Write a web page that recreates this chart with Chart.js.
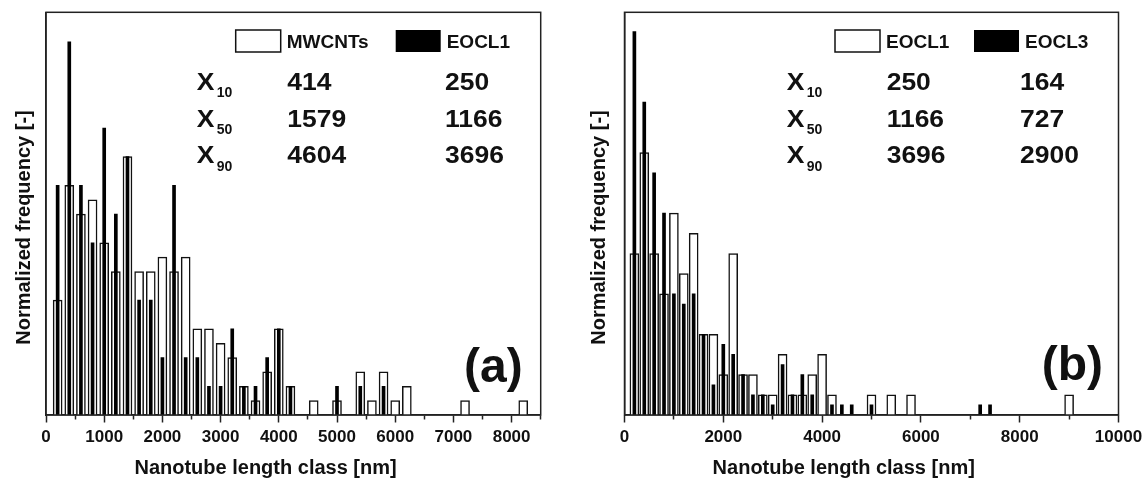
<!DOCTYPE html>
<html>
<head>
<meta charset="utf-8">
<script src="https://cdn.jsdelivr.net/npm/chart.js@4.4.1/dist/chart.umd.min.js"></script>
<style>
    html, body { margin: 0; padding: 0; background: #fff; }
    .panel { position: absolute; top: 0; width: 572px; height: 480px; }
    #panel-a { left: 0; }
    #panel-b { left: 572px; }
</style>
</head>
<body>
<div class="panel" id="panel-a"><canvas id="chart-a"></canvas></div>
<div class="panel" id="panel-b"><canvas id="chart-b"></canvas></div>
<script>
// Length classes [nm] (bin centres)
const lengthClasses = [
    200, 400, 600, 800, 1000, 1200, 1400, 1600, 1800, 2000,
    2200, 2400, 2600, 2800, 3000, 3200, 3400, 3600, 3800, 4000,
    4200, 4400, 4600, 4800, 5000, 5200, 5400, 5600, 5800, 6000,
    6200, 6400, 6600, 6800, 7000, 7200, 7400, 7600, 7800, 8000,
    8200, 8400, 8600, 8800, 9000
]

// Normalized frequency per class
const mwcntFreq = [
    8, 16, 14, 15, 12, 10, 18, 10, 10, 11,
    10, 11, 6, 6, 5, 4, 2, 1, 3, 6,
    2, 0, 1, 0, 1, 0, 3, 1, 3, 1,
    2, 0, 0, 0, 0, 1, 0, 0, 0, 0,
    1, 0, 0, 0, 0
]
const eocl1Freq = [
    16, 26, 16, 12, 20, 14, 18, 8, 8, 4,
    16, 4, 4, 2, 2, 6, 2, 2, 4, 6,
    2, 0, 0, 0, 2, 0, 2, 0, 2, 0,
    0, 0, 0, 0, 0, 0, 0, 0, 0, 0,
    0, 0, 0, 0, 2
]
const eocl3Freq = [
    38, 31, 24, 20, 12, 11, 12, 8, 3, 7,
    6, 4, 2, 2, 1, 5, 2, 4, 2, 0,
    1, 1, 1, 0, 1, 0, 0, 0, 0, 0,
    0, 0, 0, 0, 0, 1, 1, 0, 0, 0,
    0, 0, 0, 0, 0
]

// Characteristic lengths X10 / X50 / X90 [nm]
const percentiles = ['10', '50', '90']
const mwcntStats = [414, 1579, 4604]
const eocl1Stats = [250, 1166, 3696]
const eocl3Stats = [164, 727, 2900]

const FONT = "'Liberation Sans', Arial, sans-serif"

function toPoints(values, xMax) {
    let points = []
    values.forEach((v, i) => {
        if (v > 0 && lengthClasses[i] <= xMax) {
            points.push({x: lengthClasses[i], y: v})
        }
    })
    return points
}

// stretched bold text like the original figure
function drawWide(ctx, text, x, y, size, sx) {
    ctx.save()
    ctx.font = `bold ${size}px ${FONT}`
    ctx.translate(x, y)
    ctx.scale(sx, 1)
    ctx.fillText(text, 0, 0)
    ctx.restore()
}

// Frame, legend, X10/X50/X90 table and panel letter
const panelDecor = {
    id: 'panelDecor',
    afterDatasetsDraw(chart, args, opts) {
        const ctx = chart.ctx
        const area = chart.chartArea
        ctx.save()
        ctx.strokeStyle = '#222'
        ctx.lineWidth = 1.5
        ctx.strokeRect(area.left, area.top, area.right - area.left, area.bottom - area.top)

        // legend
        const blackSet = chart.data.datasets[0]
        const openSet = chart.data.datasets[1]
        ctx.fillStyle = '#fff'
        ctx.fillRect(opts.openX, 30, 45, 22)
        ctx.strokeStyle = '#111'
        ctx.strokeRect(opts.openX, 30, 45, 22)
        ctx.fillStyle = '#000'
        ctx.fillRect(opts.blackX, 30, 45, 22)
        ctx.fillStyle = '#111'
        ctx.textBaseline = 'alphabetic'
        ctx.textAlign = 'left'
        ctx.font = `bold 19px ${FONT}`
        ctx.fillText(openSet.label, opts.openX + 51, 48.3)
        ctx.fillText(blackSet.label, opts.blackX + 51, 48.3)

        // table
        const rows = [90, 126.7, 163.3]
        rows.forEach((y, i) => {
            drawWide(ctx, 'X', opts.tableX, y, 23, 1.15)
            ctx.font = `bold 14px ${FONT}`
            ctx.fillText(percentiles[i], opts.tableX + 20, y + 7.3)
            drawWide(ctx, String(opts.openStats[i]), opts.col1X, y, 23, 1.15)
            drawWide(ctx, String(opts.blackStats[i]), opts.col2X, y, 23, 1.15)
        })

        // panel letter
        ctx.font = `bold 48px ${FONT}`
        ctx.fillText(opts.letter, opts.letterX, opts.letterY)
        ctx.restore()
    }
}

function makeConfig(openLabel, openValues, blackLabel, blackValues, xMax, xStep, labelStep, yMax, yAxisWidth, rightPad, titlePad, decor) {
    return {
        type: 'bar',
        data: {
            datasets: [
                {
                    label: blackLabel,
                    data: toPoints(blackValues, xMax),
                    backgroundColor: '#000',
                    borderWidth: 0,
                    barThickness: 3,
                    grouped: false,
                    order: 0
                },
                {
                    label: openLabel,
                    data: toPoints(openValues, xMax),
                    backgroundColor: '#fff',
                    borderColor: '#111',
                    borderWidth: 1.5,
                    barThickness: 9,
                    grouped: false,
                    order: 1
                }
            ]
        },
        options: {
            responsive: true,
            maintainAspectRatio: false,
            animation: false,
            events: [],
            layout: {
                padding: {top: 12.3, right: rightPad, left: 0, bottom: 0}
            },
            scales: {
                x: {
                    type: 'linear',
                    min: 0,
                    max: xMax,
                    offset: false,
                    grid: {
                        display: true,
                        offset: false,
                        drawOnChartArea: false,
                        drawTicks: true,
                        tickLength: 7.5,
                        tickWidth: 1.5,
                        color: '#222',
                        // minor ticks (no label) drawn shorter
                        tickBorderDash: c => (c.tick && c.tick.value % labelStep !== 0 ? [4, 20] : [])
                    },
                    border: {display: true, color: '#222', width: 1.5},
                    ticks: {
                        stepSize: xStep,
                        autoSkip: false,
                        maxRotation: 0,
                        padding: 4.8,
                        color: '#111',
                        font: {family: FONT, size: 17, weight: 'bold'},
                        callback: v => (v % labelStep === 0 ? String(v) : '')
                    },
                    title: {
                        display: true,
                        // trailing spaces move the title left, as in the original
                        text: 'Nanotube length class [nm]' + ' '.repeat(10),
                        color: '#111',
                        font: {family: FONT, size: 20, weight: 'bold'},
                        padding: {top: 0, bottom: 0}
                    },
                    afterFit: scale => {
                        scale.height = 65
                        scale.paddingLeft = 0
                        scale.paddingRight = 0
                    }
                },
                y: {
                    min: 0,
                    max: yMax,
                    ticks: {display: false},
                    grid: {display: false},
                    border: {display: true, color: '#222', width: 1.5},
                    title: {
                        display: true,
                        text: 'Normalized frequency [-]' + ' '.repeat(5),
                        color: '#111',
                        font: {family: FONT, size: 20, weight: 'bold'},
                        padding: {top: titlePad, bottom: 0}
                    },
                    afterFit: scale => {
                        scale.width = yAxisWidth
                    }
                }
            },
            plugins: {
                legend: {display: false},
                tooltip: {enabled: false},
                panelDecor: decor
            }
        },
        plugins: [panelDecor]
    }
}

// Panel (a): MWCNTs vs EOCL1
const chartA = new Chart(
    document.getElementById('chart-a'),
    makeConfig('MWCNTs', mwcntFreq, 'EOCL1', eocl1Freq, 8500, 500, 1000, 28.06, 46, 31.3, 12, {
        openX: 235.7, blackX: 395.7,
        tableX: 196.7, col1X: 287.3, col2X: 445,
        openStats: mwcntStats, blackStats: eocl1Stats,
        letter: '(a)', letterX: 464, letterY: 381.7
    })
)

// Panel (b): EOCL1 vs EOCL3
const chartB = new Chart(
    document.getElementById('chart-b'),
    makeConfig('EOCL1', eocl1Freq, 'EOCL3', eocl3Freq, 10000, 1000, 2000, 39.9, 52.5, 25.5, 15, {
        openX: 263, blackX: 402,
        tableX: 214.7, col1X: 314.7, col2X: 448,
        openStats: eocl1Stats, blackStats: eocl3Stats,
        letter: '(b)', letterX: 469.7, letterY: 380
    })
)
</script>
</body>
</html>
